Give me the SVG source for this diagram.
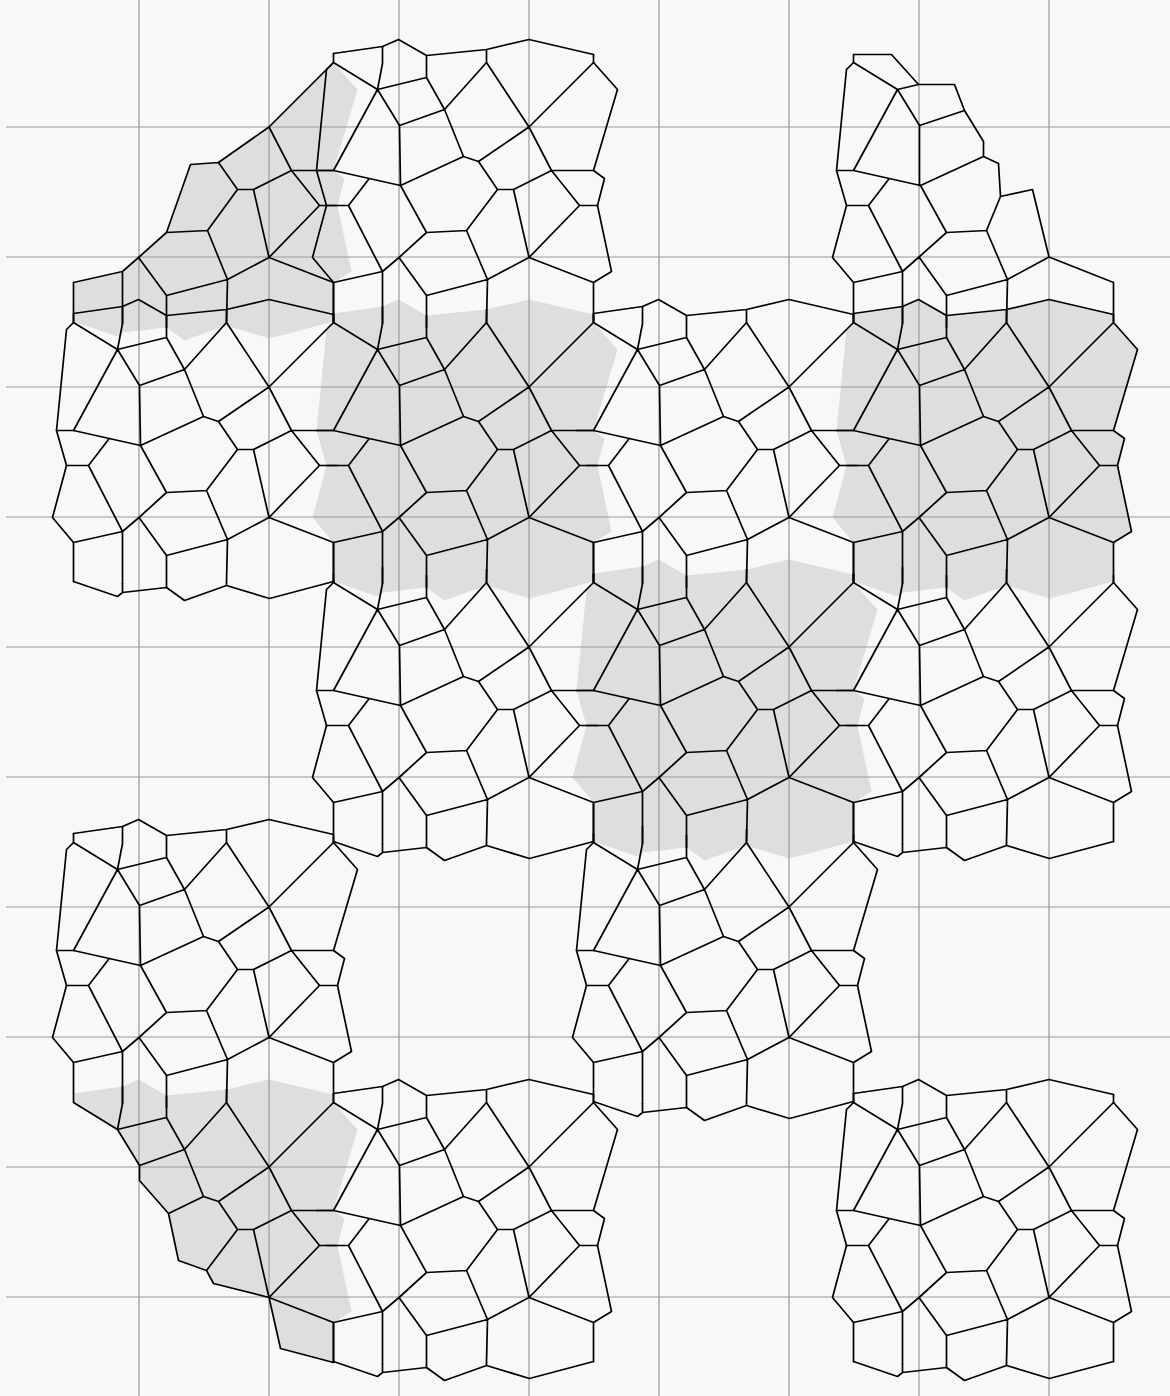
<svg xmlns="http://www.w3.org/2000/svg" width="1170" height="1396" viewBox="0 0 1170 1396">
<style>
.s{fill:#dedede;stroke:none}
.g{fill:none;stroke:#999;stroke-width:1.2}
.n{fill:none;stroke:#000;stroke-width:1.7;stroke-linejoin:round;stroke-linecap:round}
</style>
<defs>
<polygon id="O" points="853,1093 902,1086 918,1079 946,1095 1006,1089 1048.5,1079 1113,1094 1113,1102 1137,1129 1113,1210 1124,1218 1117,1245 1131,1311 1113,1322 1113,1361 1049,1378 1006,1365 964,1380 946,1367 902,1372 897,1376 853,1361 853,1322 832,1297 846,1245 836,1210 846,1109 853,1102"/>
<path id="I" d="M853 1093V1102L897 1129M902 1086V1103L897 1129M946 1095V1117M1006 1089V1102L964 1149M897 1129L946 1117L964 1149L983 1196M964 1149L919 1165M897 1129L919 1165L920 1225L983 1196L998 1201M897 1129L853 1210M836 1210H853L920 1225M1006 1102L1048.5 1166.5M1113 1094V1102L1048.5 1166.5L998 1201L1017 1229H1033L1071 1210M1048.5 1166.5L1071 1210H1113M1071 1210L1099 1245H1117M1099 1245L1048.5 1297M1033 1229L1048.5 1297M1017 1229L986 1270L946 1272M986 1270L1007 1319M946 1272L920 1225M946 1272L918.5 1297L902 1311M918.5 1297L946 1335L1007 1319L1048.5 1297L1113 1322V1361M902 1311L853 1322V1361M902 1311V1363M946 1335V1367M1007 1319L1006 1362M846 1245H868L902 1311M868 1245L888 1219"/>
<path id="T" d="M853 1093L902 1086L918 1079L946 1095L1006 1089L1048.5 1079L1113 1094"/>
<path id="B" d="M853 1361L897 1376L902 1372L946 1367L964 1380L1006 1365L1049 1378L1113 1361M902 1363V1372M1006 1362V1365"/>
<path id="L" d="M853 1102L846 1109L836 1210L846 1245L832 1297L853 1322"/>
<path id="R" d="M1113 1102L1137 1129L1113 1210L1124 1218L1117 1245L1131 1311L1113 1322"/>
</defs>
<rect width="1170" height="1396" fill="#f8f8f8"/>
<g id="shading" class="s" transform="translate(.5 .5)">
<polygon points="74,283 122,272 138,257 166,233 190,164 218,162 268.5,126.5 333,62 357,89 333,170 344,178 337,205 351,271 333,282 333,321 269,338 226,325 184,340 166,327 122,332 117,336 73,321"/>
<use href="#O" x="-520" y="-780"/>
<use href="#O" x="0" y="-780"/>
<use href="#O" x="-260" y="-520"/>
<polygon points="73,1093 122,1086 138,1079 166,1095 226,1089 268.5,1079 333,1094 333,1102 357,1129 333,1210 344,1218 337,1245 351,1311 333,1322 333,1362 280,1348 268.5,1297 213,1283 207,1269 178,1260 168,1213 139,1180 139,1165 117,1129 73,1102"/>
</g>
<g id="grid" class="g">
<path d="M139 0V1396M269 0V1396M399 0V1396M529 0V1396M659 0V1396M789 0V1396M919 0V1396M1049 0V1396"/>
<path d="M6 127H1170M6 257H1170M6 387H1170M6 517H1170M6 647H1170M6 777H1170M6 907H1170M6 1037H1170M6 1167H1170M6 1297H1170"/>
</g>
<g id="network" class="n" transform="translate(.5 .5)">
<g id="block-a"><use href="#I" x="-520" y="-1040"/><use href="#T" x="-520" y="-1040"/><use href="#L" x="-520" y="-1040"/><use href="#R" x="-520" y="-1040"/></g>
<g id="block-b"><use href="#I" x="-780" y="-780"/><use href="#T" x="-780" y="-780"/><use href="#L" x="-780" y="-780"/><use href="#B" x="-780" y="-780"/></g>
<g id="block-c"><use href="#I" x="-520" y="-780"/></g>
<g id="block-f"><use href="#I" x="-260" y="-780"/><use href="#T" x="-260" y="-780"/></g>
<g id="block-g"><use href="#I" x="0" y="-780"/><use href="#T" x="0" y="-780"/><use href="#R" x="0" y="-780"/></g>
<g id="block-h"><use href="#I" x="-520" y="-520"/><use href="#L" x="-520" y="-520"/><use href="#B" x="-520" y="-520"/></g>
<g id="block-i"><use href="#I" x="-260" y="-520"/></g>
<g id="block-j"><use href="#I" x="0" y="-520"/><use href="#R" x="0" y="-520"/><use href="#B" x="0" y="-520"/></g>
<g id="block-k"><use href="#I" x="-780" y="-260"/><use href="#T" x="-780" y="-260"/><use href="#L" x="-780" y="-260"/><use href="#R" x="-780" y="-260"/></g>
<g id="block-l"><use href="#I" x="-260" y="-260"/><use href="#L" x="-260" y="-260"/><use href="#R" x="-260" y="-260"/><use href="#B" x="-260" y="-260"/></g>
<g id="block-n"><use href="#I" x="-520" y="0"/><use href="#T" x="-520" y="0"/><use href="#R" x="-520" y="0"/><use href="#B" x="-520" y="0"/></g>
<g id="block-p"><use href="#I"/><use href="#T"/><use href="#L"/><use href="#R"/><use href="#B"/></g>
<path id="block-d" d="M73 282V322M73 282L122 271L138 257L166 232L190 164L218 162L268.5 126.5L333 62M122 271V323M138 257L166 295L227 279L268.5 257L333 282V321M166 295V327M227 279L226 322M166 232L207 230L227 279M207 230L237 189H253L291 170L268.5 126.5M218 162L237 189M253 189L268.5 257M291 170L319 205L268.5 257M291 170H333M319 205H337"/>
<path id="block-e" d="M853 62V54H891L918 84H954L964 110L983 141V156L998 163L1000 196L1032 189L1048.5 256.5M853 62L846 69L836 170L846 205L832 257L853 282M853 62L897 89L918 84M897 89L919 125L964 110M897 89L853 170H836M853 170L920 185L983 156M919 125V185M920 185L946 232L986 230L1000 196M986 230L1007 279L1048.5 256.5M946 232L918.5 256.5L902 271L853 282V321M902 271V323M918.5 256.5L946 295L1007 279M946 295V327M1007 279L1006 322M1048.5 256.5L1113 282V321M846 205H868L888 179M868 205L902 271"/>
<path id="block-m" d="M73 1102L117 1129L166 1117L184 1149L139 1165L117 1129M122 1086V1103L117 1129M166 1095V1117M139 1165V1180L168 1213L178 1260L206 1270L213 1283L268.5 1297L280 1348L333 1362M168 1213L203 1196L184 1149M203 1196L218 1201L237 1229H253L291 1210H333M226 1102L184 1149M226 1089V1102L268.5 1166.5L333 1102M268.5 1166.5L218 1201M268.5 1166.5L291 1210L319 1245H337M319 1245L268.5 1297L333 1322V1361M253 1229L268.5 1297M237 1229L206 1270"/>
</g>
</svg>
